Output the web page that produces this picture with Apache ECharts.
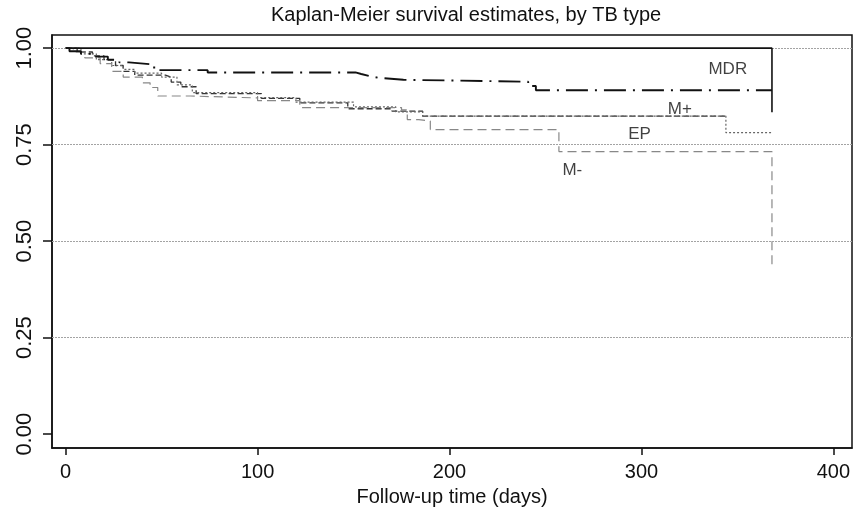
<!DOCTYPE html>
<html>
<head>
<meta charset="utf-8">
<script src="https://cdn.jsdelivr.net/npm/echarts@6/dist/echarts.min.js"></script>
<style>
html, body { margin: 0; padding: 0; background: #fff; }
#chart { width: 856px; height: 512px; }
</style>
</head>
<body>
<div id="chart"></div>
<script>
// survival steps: [day, survival after that day]
var survSolid = [[0, 1], [368, 1], [368, 0.834]];
var survDashDot = [[0, 1], [2, 0.992], [8, 0.985], [15, 0.978], [22, 0.97], [28, 0.963], [33, 0.958], [45, 0.95], [48, 0.943],
    [74, 0.937], [151, 0.933], [154, 0.928], [158, 0.923], [163, 0.918], [176, 0.913], [241, 0.902], [245, 0.891], [368, 0.891]];
var survMpos = [[0, 1], [6, 0.99], [14, 0.98], [20, 0.97], [26, 0.955], [30, 0.94], [36, 0.93], [52, 0.925], [55, 0.912],
    [60, 0.9], [68, 0.882], [102, 0.87], [122, 0.858], [147, 0.843], [170, 0.837], [186, 0.824], [344, 0.824]];
var survEP = [[0, 1], [8, 0.985], [16, 0.97], [24, 0.955], [30, 0.945], [36, 0.935], [50, 0.925], [58, 0.905], [66, 0.885],
    [100, 0.872], [120, 0.86], [150, 0.848], [172, 0.835], [186, 0.824], [344, 0.824], [344, 0.781], [368, 0.781]];
var survMneg = [[0, 1], [4, 0.99], [10, 0.975], [18, 0.96], [24, 0.94], [30, 0.925], [40, 0.91], [44, 0.898], [48, 0.876],
    [65, 0.871], [100, 0.864], [122, 0.846], [175, 0.84], [178, 0.815], [184, 0.811], [190, 0.789], [257, 0.789],
    [257, 0.732], [368, 0.732], [368, 0.44]];

var groupNames = ['MDR', 'M+', 'EP', 'M-'];
var groupLabelAt = [[345, 0.944], [320, 0.841], [299, 0.777], [264, 0.683]];

var xTicks = [0, 100, 200, 300, 400];
var yTicks = [0, 0.25, 0.5, 0.75, 1];
var gridAt = [0.25, 0.5, 0.75, 1];

var font = 'Liberation Sans, Arial, sans-serif';
var chart = echarts.init(document.getElementById('chart'));

function kmLine(name, data, color, width, type, z) {
    return {
        name: name,
        type: 'line',
        step: 'end',
        data: data,
        symbol: 'none',
        silent: true,
        z: z,
        lineStyle: { color: color, width: width, type: type }
    };
}

var option = {
    backgroundColor: '#fff',
    animation: false,
    title: {
        text: 'Kaplan-Meier survival estimates, by TB type',
        left: 266,
        top: 0,
        textStyle: { fontFamily: font, fontSize: 20, fontWeight: 'normal', color: '#111' }
    },
    grid: {
        left: 52, right: 4, top: 35, bottom: 61,
        show: true,
        borderColor: '#111',
        borderWidth: 1.5
    },
    xAxis: {
        type: 'value',
        min: -7.1,
        max: 409.7,
        name: 'Follow-up time (days)',
        nameLocation: 'middle',
        nameGap: 34,
        nameTextStyle: { fontFamily: font, fontSize: 20, color: '#111' },
        axisLine: { show: true, onZero: false, lineStyle: { color: '#111', width: 1.5 } },
        axisTick: { show: true, length: 7, customValues: xTicks, lineStyle: { color: '#111', width: 1.5 } },
        axisLabel: { customValues: xTicks, margin: 14, fontFamily: font, fontSize: 20, color: '#111' },
        splitLine: { show: false }
    },
    yAxis: {
        type: 'value',
        min: -0.036,
        max: 1.034,
        axisLine: { show: true, onZero: false, lineStyle: { color: '#111', width: 1.5 } },
        axisTick: { show: true, length: 9, customValues: yTicks, lineStyle: { color: '#111', width: 1.5 } },
        axisLabel: {
            customValues: yTicks,
            rotate: 90,
            margin: 16,
            fontFamily: font,
            fontSize: 22,
            color: '#111',
            formatter: function (v) { return v.toFixed(2); }
        },
        splitLine: { show: false }
    },
    series: [
        {
            type: 'line',
            data: [],
            silent: true,
            z: 1,
            markLine: {
                silent: true,
                symbol: 'none',
                label: { show: false },
                lineStyle: { color: '#a3a3a3', width: 1, type: [2, 1] },
                data: gridAt.map(function (v) { return { yAxis: v }; })
            }
        },
        kmLine('solid', survSolid, '#111', 1.6, 'solid', 5),
        kmLine('dash-dot', survDashDot, '#111', 1.9, [22, 7, 2, 7], 4),
        kmLine('M+', survMpos, '#333', 1.3, [6, 3], 3),
        kmLine('EP', survEP, '#666', 1.2, [2, 2], 3),
        kmLine('M-', survMneg, '#888', 1.2, [9, 5], 3),
        {
            type: 'scatter',
            silent: true,
            symbolSize: 0,
            z: 6,
            data: groupNames.map(function (n, i) { return { name: n, value: groupLabelAt[i] }; }),
            label: {
                show: true,
                position: 'inside',
                formatter: '{b}',
                fontFamily: font,
                fontSize: 17,
                color: '#111'
            }
        }
    ]
};

chart.setOption(option);
</script>
</body>
</html>
